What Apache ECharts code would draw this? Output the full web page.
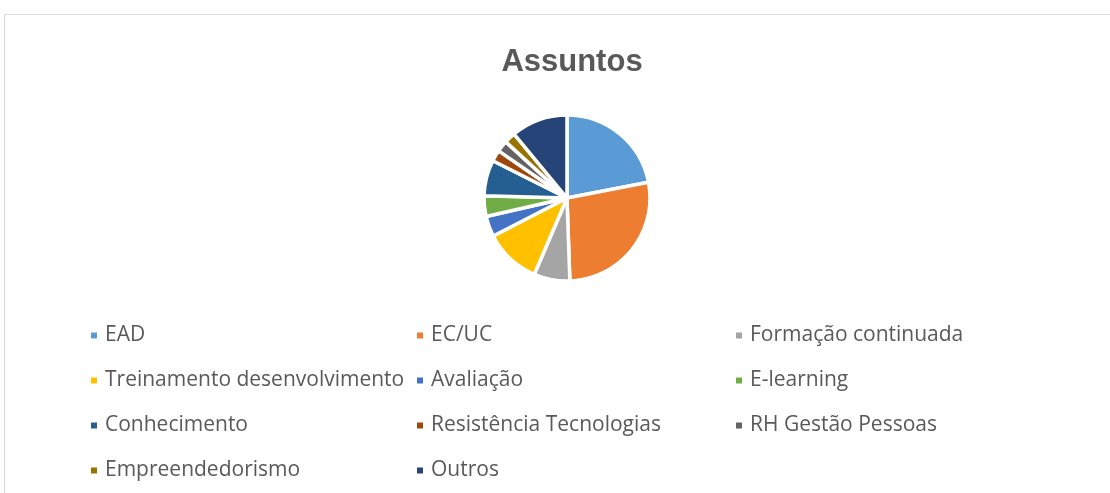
<!DOCTYPE html>
<html>
<head>
<meta charset="utf-8">
<script src="https://cdn.jsdelivr.net/npm/echarts@6/dist/echarts.min.js"></script>
<style>
  html, body { margin: 0; padding: 0; background: #fff; }
  #chart { width: 1110px; height: 493px; }
</style>
</head>
<body>
<div id="chart"></div>
<script>
// categories and values
var categories = ['EAD', 'EC/UC', 'Formação continuada', 'Treinamento desenvolvimento', 'Avaliação',
                  'E-learning', 'Conhecimento', 'Resistência Tecnologias', 'RH Gestão Pessoas',
                  'Empreendedorismo', 'Outros'];
var values = [22, 27.5, 7, 11, 4, 4, 7, 2.2, 2.2, 2.2, 11];
var colors = ['#5b9bd5', '#ed7d31', '#a5a5a5', '#ffc000', '#4472c4', '#70ad47',
              '#255e91', '#9e480e', '#636363', '#997300', '#264478'];

// legend columns (as laid out in the picture)
var col1 = ['EAD', 'Treinamento desenvolvimento', 'Conhecimento', 'Empreendedorismo'];
var col2 = ['EC/UC', 'Avaliação', 'Resistência Tecnologias', 'Outros'];
var col3 = ['Formação continuada', 'E-learning', 'RH Gestão Pessoas'];

var FONT = 'Open Sans';

function legendCol(data, left) {
    return {
        orient: 'vertical',
        left: left,
        top: 320,
        data: data,
        icon: 'rect',
        itemWidth: 8,
        itemHeight: 8,
        itemGap: 24,
        selectedMode: false,
        textStyle: { color: '#595959', fontSize: 21, lineHeight: 21, fontFamily: FONT, padding: [0, 0, 0, 2] }
    };
}

var pieData = [];
for (var i = 0; i < categories.length; i++) {
    pieData.push({ name: categories[i], value: values[i], itemStyle: { color: colors[i] } });
}

var myChart = echarts.init(document.getElementById('chart'));
myChart.setOption({
    animation: false,
    title: {
        text: 'Assuntos',
        left: 567,
        textAlign: 'center',
        top: 42,
        textStyle: { color: '#595959', fontSize: 31, fontWeight: 'bold', fontFamily: 'Liberation Sans' }
    },
    graphic: [{
        type: 'rect',
        shape: { x: 4.5, y: 14.5, width: 1120, height: 500 },
        style: { fill: 'none', stroke: '#d9d9d9', lineWidth: 1 },
        silent: true
    }],
    legend: [legendCol(col1, 84), legendCol(col2, 410), legendCol(col3, 729)],
    series: [{
        type: 'pie',
        center: [567, 198],
        radius: [0, 83],
        startAngle: 90,
        clockwise: true,
        label: { show: false },
        labelLine: { show: false },
        itemStyle: { borderColor: '#fff', borderWidth: 3.5 },
        data: pieData
    }]
});
</script>
</body>
</html>
